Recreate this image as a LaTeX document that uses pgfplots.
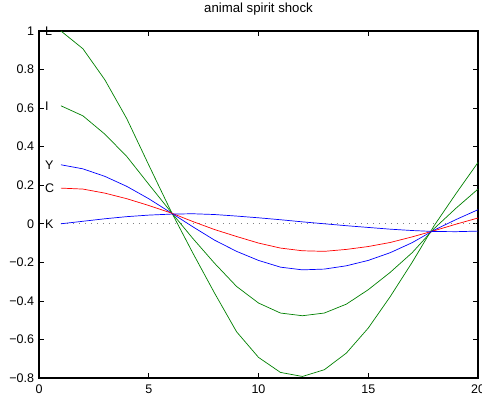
\documentclass[border=0pt]{standalone}
\usepackage{pgfplots}
\pgfplotsset{compat=1.18}
\usepackage{fontspec}
\setmainfont{Liberation Sans}
\definecolor{mgreen}{rgb}{0,0.5,0}
\begin{document}
\begin{tikzpicture}
\begin{axis}[
  at={(0,0)}, anchor=south west,
  width=439pt, height=347pt, scale only axis,
  xmin=0, xmax=20, ymin=-0.8, ymax=1,
  xtick={0,5,10,15,20},
  ytick={-0.8,-0.6,-0.4,-0.2,0,0.2,0.4,0.6,0.8,1},
  yticklabels={−0.8,−0.6,−0.4,−0.2,0,0.2,0.4,0.6,0.8,1},
  xticklabels={0,5,10,15,20},
  tick align=inside, major tick length=5pt,
  tick style={black, line width=0.6pt},
  axis line style={black, line width=1.1pt},
  font=\fontsize{12.5}{14}\selectfont,
  ticklabel style={font=\fontsize{12.5}{14}\selectfont},
  yticklabel style={xshift=-1.5pt},
  xticklabel style={yshift=-3pt},
  title={animal spirit shock},
  title style={at={(0.5,1)}, anchor=base, yshift=12pt, font=\fontsize{13.2}{15}\selectfont},
  clip=false,
]
\coordinate (bl) at (rel axis cs:0,0);
\addplot[gray, line width=0.6pt, dash pattern=on 0.8pt off 5.2pt] coordinates {(1,0) (20,0)};
\addplot[mgreen, line width=0.7pt] coordinates {
(1,1.000) (2,0.908) (3,0.747) (4,0.545) (5,0.305) (6,0.068) (7,-0.150) (8,-0.360) (9,-0.560) (10,-0.693)
(11,-0.771) (12,-0.792) (13,-0.757) (14,-0.671) (15,-0.541) (16,-0.378) (17,-0.200) (18,-0.010) (19,0.157) (20,0.318)};
\addplot[mgreen, line width=0.7pt] coordinates {
(1,0.612) (2,0.560) (3,0.465) (4,0.349) (5,0.205) (6,0.063) (7,-0.075) (8,-0.205) (9,-0.325) (10,-0.411)
(11,-0.463) (12,-0.477) (13,-0.463) (14,-0.417) (15,-0.342) (16,-0.252) (17,-0.150) (18,-0.025) (19,0.081) (20,0.180)};
\addplot[blue, line width=0.7pt] coordinates {
(1,0.306) (2,0.285) (3,0.246) (4,0.194) (5,0.130) (6,0.058) (7,-0.015) (8,-0.085) (9,-0.143) (10,-0.190)
(11,-0.225) (12,-0.239) (13,-0.235) (14,-0.218) (15,-0.190) (16,-0.150) (17,-0.098) (18,-0.033) (19,0.022) (20,0.073)};
\addplot[red, line width=0.7pt] coordinates {
(1,0.185) (2,0.180) (3,0.159) (4,0.130) (5,0.095) (6,0.057) (7,0.012) (8,-0.030) (9,-0.066) (10,-0.100)
(11,-0.126) (12,-0.140) (13,-0.143) (14,-0.133) (15,-0.118) (16,-0.097) (17,-0.068) (18,-0.036) (19,-0.002) (20,0.030)};
\addplot[blue, line width=0.7pt] coordinates {
(1,0.000) (2,0.013) (3,0.026) (4,0.037) (5,0.045) (6,0.050) (7,0.052) (8,0.048) (9,0.040) (10,0.031)
(11,0.021) (12,0.010) (13,0.000) (14,-0.010) (15,-0.019) (16,-0.028) (17,-0.035) (18,-0.040) (19,-0.041) (20,-0.038)};
\node[anchor=west, inner sep=0pt] at (axis cs:0.27,1.0) {L};
\node[anchor=west, inner sep=0pt] at (axis cs:0.27,0.612) {I};
\node[anchor=west, inner sep=0pt] at (axis cs:0.27,0.306) {Y};
\node[anchor=west, inner sep=0pt] at (axis cs:0.27,0.185) {C};
\node[anchor=west, inner sep=0pt] at (axis cs:0.27,0.0) {K};
\end{axis}
\pgfresetboundingbox
\path[use as bounding box] ([shift={(-39pt,-16pt)}]bl) rectangle ([shift={(443pt,378pt)}]bl);
\end{tikzpicture}
\end{document}
